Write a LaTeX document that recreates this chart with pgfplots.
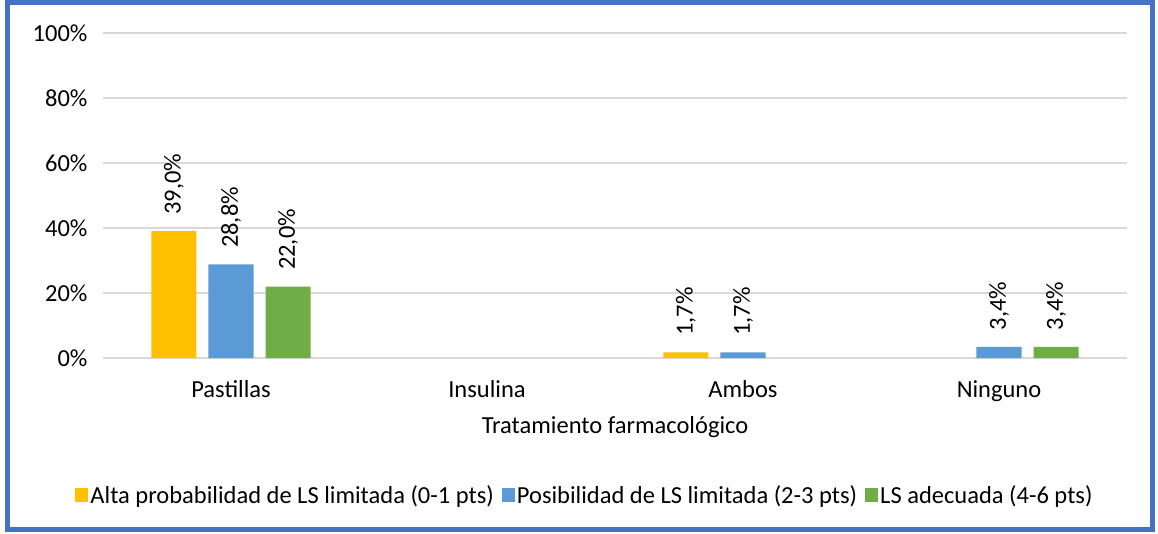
\documentclass[border=0pt]{standalone}
\usepackage{pgfplots}
\pgfplotsset{compat=1.18}
\usepackage{fontspec}
\setmainfont{Carlito}
\definecolor{cY}{HTML}{FFC000}
\definecolor{cB}{HTML}{5B9BD5}
\definecolor{cG}{HTML}{70AD47}
\definecolor{frameblue}{HTML}{4472C4}
\definecolor{gridgray}{HTML}{D9D9D9}
\begin{document}
\begin{tikzpicture}
\useasboundingbox (0,0) rectangle (1158pt,533pt);
\fill[white] (0,0) rectangle (1158pt,533pt);
\draw[frameblue, line width=5pt] (7.5pt,3.5pt) rectangle (1152.5pt,530.5pt);
\begin{axis}[
  at={(103pt,175pt)}, anchor=south west,
  scale only axis, width=1024pt, height=325pt,
  /pgf/number format/assume math mode=true,
  font=\fontsize{24.5}{29}\selectfont,
  ybar, bar width=0.176,
  xmin=-0.5, xmax=3.5, ymin=0, ymax=100,
  xtick={0,1,2,3}, xticklabels={Pastillas,Insulina,Ambos,Ninguno},
  ytick={0,20,40,60,80,100},
  yticklabel={\pgfmathprintnumber{\tick}\%},
  axis line style={draw=none},
  major tick length=0pt,
  xmajorgrids=false, ymajorgrids=true, grid style={draw=gridgray, line width=1.5pt},
  xlabel={Tratamiento farmacológico},
  xlabel style={yshift=-8pt},
  xticklabel style={yshift=-19pt},
  yticklabel style={xshift=-12pt},
  tick label style={font=\fontsize{24.5}{29}\selectfont},
  nodes near coords={\pgfmathprintnumber[fixed,fixed zerofill,precision=1,use comma,assume math mode=true]{\pgfplotspointmeta}\%},
  every node near coord/.append style={rotate=90, anchor=west, font=\fontsize{24.5}{29}\selectfont, xshift=13pt},
  legend style={at={(0.4707,-0.4215)}, anchor=center, draw=none, legend columns=3,
     font=\fontsize{24.5}{29}\selectfont, /tikz/every even column/.append style={column sep=6pt}},
  legend image code/.code={\fill[#1] (0pt,-7pt) rectangle (13pt,7pt);},
]
\addplot[fill=cY, draw=none, bar shift=-0.223] coordinates {(0,39.0) (2,1.7)};
\addplot[fill=cB, draw=none, bar shift=0] coordinates {(0,28.8) (2,1.7) (3,3.4)};
\addplot[fill=cG, draw=none, bar shift=0.223] coordinates {(0,22.0) (3,3.4)};
\legend{Alta probabilidad de LS limitada (0-1 pts),Posibilidad de LS limitada (2-3 pts),LS adecuada (4-6 pts)}
\end{axis}
\end{tikzpicture}
\end{document}
